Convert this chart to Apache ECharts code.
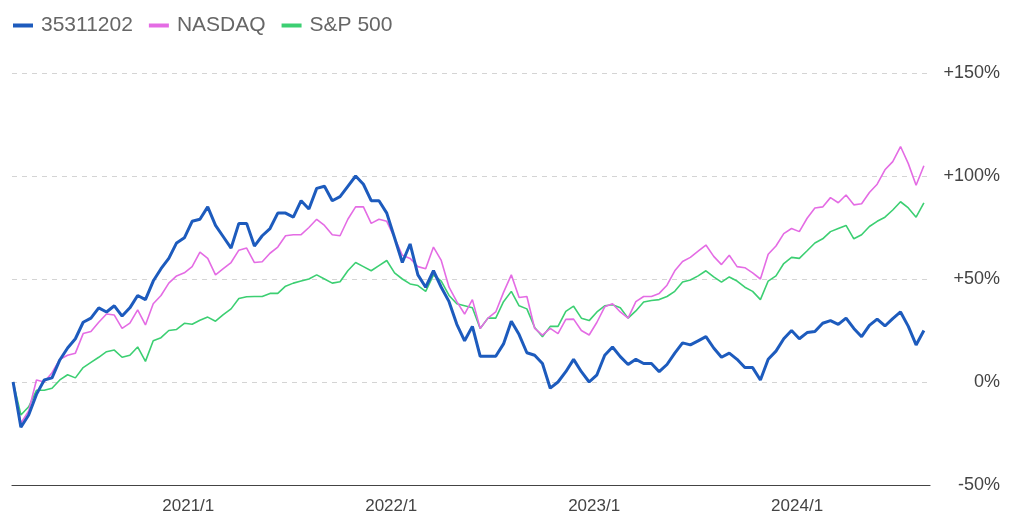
<!DOCTYPE html>
<html>
<head>
<meta charset="utf-8">
<script src="https://cdn.jsdelivr.net/npm/echarts@6/dist/echarts.min.js"></script>
<style>
html,body{margin:0;padding:0;background:#fff;}
#c{width:1024px;height:523px;}
</style>
</head>
<body>
<div id="c"></div>
<script>
// Series names
const seriesNames = ['35311202', 'NASDAQ', 'S&P 500'];
// Biweekly observation dates start (every 14 days)
const startDate = '2020-02-21';
const stepDays = 14;
// Year tick labels
const yearTicks = ['2021-01-01', '2022-01-01', '2023-01-01', '2024-01-01'];
const yTicks = [-50, 0, 50, 100, 150];

// Cumulative return (%)
const fundValues = [0,-22,-16,-6,1,2,10.7,16.5,21,29,31,36,34,37,32,36,42,40,49,55,
60,67.5,70,78,79,85,76,70.5,65,77,77,66,71,74.5,82,82,80,88,84,94,
95,88,90,95,100,96,88,88,82,70,58,67,52,46,54,46,39,28,20,27,
12.5,12.5,12.5,18.5,29.5,23,14.2,13,9,-3,0,5,11,5,0,3.5,13,17,12.3,8.5,
11,9,9,5,8.5,14,19,18,20,22,16.5,12,14,11,7,7,1,11,15,21,
25,21,24,24.5,28.5,29.8,28,31,26,22,27.5,30.5,27.2,30.8,34,27,18,25];

const nasdaqValues = [0,-20,-14,1,0,4.5,11,13,14,23.5,24.5,29,33,32.5,26,28.6,35,27.7,38,42,
48,51.5,53,56,63,60,52,55,58,64,65,58,58.4,62.5,65.5,71,71.5,71.5,75,79,
76,71.5,71,79,85,85,77,79,78,70,61.5,60,56,55,65.5,59,46,39,33,40,
26,31,34,43.5,52,41,41.5,26,22.8,26,23.5,30.4,30.5,25,22.8,29,36.5,38,34,31,
39,41.5,41.5,43,47,54,58.5,60.5,63.5,66.5,61,57,61.5,56,55.5,53,50,62,66,72,
74.5,73,79.5,84.5,85,89.5,87,90.8,86,86.5,92,96,103,107,114.3,106,95.5,105];

const spValues = [0,-16,-12,-4,-4,-3,1,3.5,2,7,9.5,12,14.7,15.5,12,13,17,10,20,21.5,
25,25.5,28.5,28,30,31.5,29.5,32.7,35.5,40.5,41.4,41.5,41.5,43,43,46.5,48,49,50,52,
50,48,48.7,54,58,56,54,56.5,59,53,50,47.6,46.8,44,52,49,42,38,37,36,
26,31,31,39,44,37,35.5,26.5,22,27,27,34.3,36.8,31,29.8,34,37,37.5,36,31,
34.5,38.8,39.6,40,41.5,44,48.5,49.5,51.5,54,51,48.5,51,49,46,44,40,49,51.5,57.5,
60.5,60,63.7,67.5,69.5,73,74.5,76,69.5,71.5,75.5,78,80,83.5,87.5,84.5,80,87];

const DAY = 24 * 3600 * 1000;
const t0 = Date.parse(startDate + 'T00:00:00Z');
function pairs(vals) {
  return vals.map((v, i) => [t0 + i * stepDays * DAY, v]);
}
const yearTickValues = yearTicks.map(d => Date.parse(d + 'T00:00:00Z'));

const chart = echarts.init(document.getElementById('c'));
chart.setOption({
  animation: false,
  backgroundColor: '#fff',
  textStyle: { fontFamily: '"Liberation Sans", Arial, sans-serif' },
  legend: {
    data: seriesNames,
    left: 8,
    top: 10,
    icon: 'rect',
    itemWidth: 20,
    itemHeight: 4,
    itemGap: 16,
    textStyle: { fontSize: 21, color: '#666', padding: [0, 0, 0, 3] }
  },
  grid: { left: 12, right: 94, top: 73, bottom: 38 },
  xAxis: {
    type: 'value',
    min: Date.parse('2020-02-19T00:00:00Z'),
    max: Date.parse('2024-08-27T00:00:00Z'),
    axisLine: { show: true, onZero: false, lineStyle: { color: '#444', width: 1.2 } },
    axisTick: { show: false },
    splitLine: { show: false },
    axisLabel: {
      customValues: yearTickValues,
      formatter: function (v) { return new Date(v).getUTCFullYear() + '/1'; },
      fontSize: 17,
      color: '#444',
      margin: 13
    }
  },
  yAxis: {
    type: 'value',
    position: 'right',
    min: yTicks[0],
    max: yTicks[yTicks.length - 1],
    interval: 50,
    axisLine: { show: false },
    axisTick: { show: false },
    splitLine: { show: true, lineStyle: { color: '#d4d4d4', type: [5, 5], width: 1 } },
    axisLabel: {
      formatter: function (v) { return (v > 0 ? '+' : '') + v + '%'; },
      fontSize: 18,
      color: '#444',
      align: 'right',
      margin: 70
    }
  },
  series: [
    {
      name: seriesNames[0], type: 'line', data: pairs(fundValues), showSymbol: false, z: 5,
      lineStyle: { color: '#1d5bbd', width: 3 }, itemStyle: { color: '#1d5bbd' }
    },
    {
      name: seriesNames[1], type: 'line', data: pairs(nasdaqValues), showSymbol: false, z: 3,
      lineStyle: { color: '#e46ce4', width: 1.6 }, itemStyle: { color: '#e46ce4' }
    },
    {
      name: seriesNames[2], type: 'line', data: pairs(spValues), showSymbol: false, z: 2,
      lineStyle: { color: '#3ccf72', width: 1.6 }, itemStyle: { color: '#3ccf72' }
    }
  ]
});
</script>
</body>
</html>
